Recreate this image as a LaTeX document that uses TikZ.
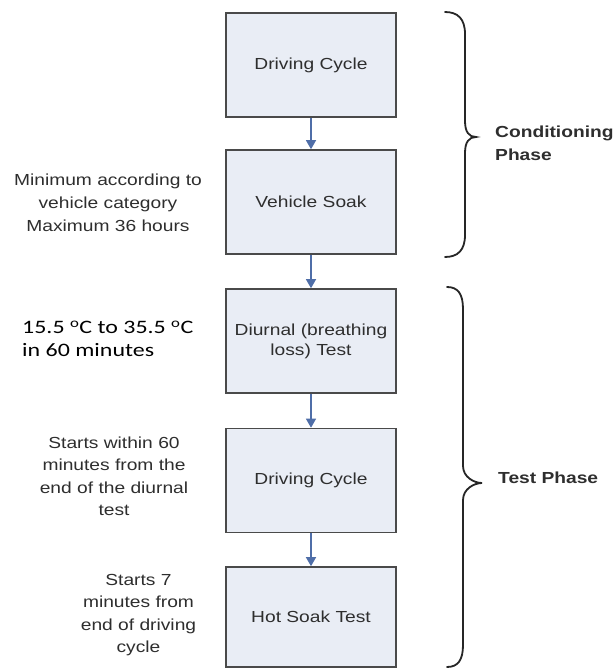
\documentclass[tikz,border=0pt]{standalone}
\usepackage{fontspec}
\setmainfont{Liberation Sans}
\newfontfamily\arialf[FakeStretch=1.2]{Liberation Sans}
\newfontfamily\calf[FakeStretch=1.26]{Carlito}
\usetikzlibrary{arrows.meta}
\definecolor{boxfill}{HTML}{E9EDF5}
\definecolor{boxline}{HTML}{4A4A4A}
\definecolor{arrowblue}{HTML}{4F6EA8}
\definecolor{labelgray}{HTML}{2E2E2E}
\begin{document}
\begin{tikzpicture}[x=1pt,y=-1pt,
  stepbox/.style={draw=boxline,line width=1.6pt,fill=boxfill,minimum width=170pt,
    minimum height=104pt,inner sep=0pt,align=center,text=labelgray,
    font=\arialf\fontsize{16}{20}\selectfont},
  flow/.style={draw=arrowblue,line width=1.3pt,-{Triangle[width=10pt,length=9pt]}},
  sidelabel/.style={align=center,text=labelgray,inner sep=0pt,
    font=\arialf\fontsize{16}{22.5}\selectfont},
  phaselabel/.style={align=left,anchor=west,inner sep=0pt,text=labelgray,
    font=\arialf\bfseries\fontsize{16}{23}\selectfont},
  bracestyle/.style={draw=black!85,line width=1.8pt,line cap=round}]
\useasboundingbox (0,0) rectangle (615,669);
\fill[white] (0,0) rectangle (615,669);

% boxes
\node[stepbox] (b1) at (311,65) {Driving Cycle};
\node[stepbox] (b2) at (311,202) {Vehicle Soak};
\node[stepbox] (b3) at (311,341) {Diurnal (breathing\\loss) Test};
\node[stepbox] (b4) at (311,480.5) {Driving Cycle};
\node[stepbox, minimum height=100pt] (b5) at (311,617) {Hot Soak Test};

% arrows
\draw[flow] (b1.south) -- (b2.north);
\draw[flow] (b2.south) -- (b3.north);
\draw[flow] (b3.south) -- (b4.north);
\draw[flow] (b4.south) -- (b5.north);

% left labels
\node[sidelabel,font=\arialf\fontsize{16}{23}\selectfont] (l1) at (108,203)
  {Minimum according to\\vehicle category\\Maximum 36 hours};
\node[anchor=west,align=left,inner sep=0pt,font=\calf\fontsize{19}{23}\selectfont] (l2) at (22,338.5)
  {15.5 \textsuperscript{o}C to 35.5 \textsuperscript{o}C\\in 60 minutes};
\node[sidelabel] (l3) at (114,476.5)
  {Starts within 60\\minutes from the\\end of the diurnal\\test};
\node[sidelabel] (l4) at (138.5,615)
  {Starts 7\\minutes from\\end of driving\\cycle};

% braces
\draw[bracestyle] (445,12) .. controls (458,12) and (465,19) .. (465,34)
  -- (465,121) .. controls (465,132) and (469,137) .. (476,137)
  .. controls (469,137) and (465,142) .. (465,153)
  -- (465,235) .. controls (465,250) and (458,257) .. (445,257);
\coordinate (t1) at (476,137);
\draw[bracestyle] (447,287) .. controls (458,287) and (463,294) .. (463,309)
  -- (463,466) .. controls (463,477) and (474,483) .. (482,483)
  .. controls (474,483) and (463,489) .. (463,500)
  -- (463,645) .. controls (463,660) and (458,667) .. (447,667);
\coordinate (t2) at (482,483);

% phase labels
\node[phaselabel] (p1) at (495,143.5) {Conditioning\\Phase};
\node[phaselabel] (p2) at (498,478) {Test Phase};
\end{tikzpicture}
\end{document}
